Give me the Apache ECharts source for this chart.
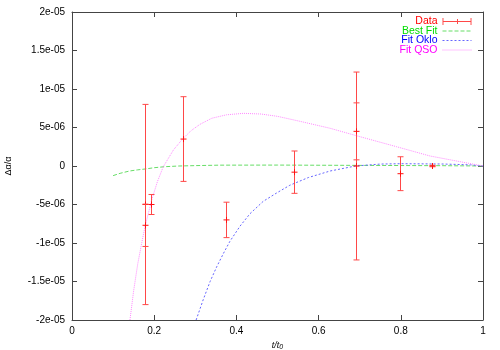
<!DOCTYPE html>
<html><head><meta charset="utf-8">
<script src="https://cdn.jsdelivr.net/npm/echarts@6/dist/echarts.min.js"></script>
<style>html,body{margin:0;padding:0;background:#fff}#c{width:500px;height:350px}</style>
</head><body><div id="c"></div>
<script>
// Data points with y error bars
const dataX   = [0.178, 0.178, 0.192, 0.269, 0.375, 0.541, 0.691, 0.691, 0.797, 0.877];
const dataY   = [-5e-6, -7.7e-6, -5e-6, 3.5e-6, -7e-6, -8e-7, 0, 4.5e-6, -1e-6, 0];
const dataErr = [1.3e-5, 2.75e-6, 1.3e-6, 5.5e-6, 2.3e-6, 2.75e-6, 1.22e-5, 3.7e-6, 2.2e-6, 1e-7];

// Fit curves
const bestX = [0.1, 0.117, 0.14, 0.16, 0.178, 0.2, 0.226, 0.26, 0.3, 0.36, 0.5, 0.7, 0.9, 1];
const bestY = [-1.25e-6, -9.5e-7, -6.5e-7, -5e-7, -3.9e-7, -2.2e-7, -9e-8, 0, 5e-8, 1.1e-7, 1.2e-7, 8e-8, 4e-8, 0];

const okloX = [0.302, 0.319, 0.336, 0.352, 0.368, 0.384, 0.409, 0.433, 0.465, 0.498, 0.53, 0.575, 0.628, 0.69, 0.75, 0.8, 0.9, 0.97, 1];
const okloY = [-2e-5, -1.74e-5, -1.5e-5, -1.31e-5, -1.14e-5, -9.8e-6, -7.8e-6, -6.2e-6, -4.6e-6, -3.5e-6, -2.5e-6, -1.5e-6, -6.5e-7, 0, 2.5e-7, 3e-7, 2.6e-7, 1.5e-7, 0];

const qsoX = [0.141, 0.15, 0.16, 0.17, 0.178, 0.194, 0.208, 0.222, 0.247, 0.269, 0.29, 0.311, 0.34, 0.376, 0.417, 0.46, 0.5, 0.555, 0.628, 0.691, 0.79, 0.871, 1];
const qsoY = [-2e-5, -1.62e-5, -1.27e-5, -9.9e-6, -7.8e-6, -4.4e-6, -2.0e-6, -1e-7, 2.1e-6, 3.5e-6, 4.6e-6, 5.4e-6, 6.2e-6, 6.65e-6, 6.84e-6, 6.75e-6, 6.45e-6, 5.8e-6, 4.9e-6, 3.95e-6, 2.5e-6, 1.3e-6, 0];

const xTickLabels = ['0', '0.2', '0.4', '0.6', '0.8', '1'];
const yTickLabels = ['-2e-05', '-1.5e-05', '-1e-05', '-5e-06', '0', '5e-06', '1e-05', '1.5e-05', '2e-05'];

const seriesNames = ['Data', 'Best Fit', 'Fit Oklo', 'Fit QSO'];

const Y_MIN = -2e-5, Y_INT = 5e-6;
const zip = (a, b) => a.map((v, i) => [v, b[i]]);
const FONT = 'Liberation Sans';
const AX = '#444';
const BAR = '#ff4848';

const chart = echarts.init(document.getElementById('c'), null, {renderer: 'canvas'});
const grid = {left: 72, right: 17, top: 12, bottom: 30, containLabel: false, outerBoundsMode: 'none'};
const baseX = {type: 'value', min: 0, max: 1, interval: 0.2, splitLine: {show: false},
  axisLine: {onZero: false, lineStyle: {color: AX, width: 1}}, axisTick: {inside: true, length: 5, lineStyle: {color: AX}}};
const baseY = {type: 'value', min: -2e-5, max: 2e-5, interval: 5e-6, splitLine: {show: false},
  axisLine: {onZero: false, lineStyle: {color: AX, width: 1}}, axisTick: {inside: true, length: 5, lineStyle: {color: AX}}};

chart.setOption({
  animation: false,
  color: [BAR, '#66dd66', '#6666ff', '#ff88ff'],
  grid: grid,
  legend: {
    orient: 'vertical', right: 28, top: 16, align: 'right', padding: 0,
    itemWidth: 29, itemHeight: 8, itemGap: -1.5,
    textStyle: {fontFamily: FONT, fontSize: 10.5, lineHeight: 10},
    data: [
      {name: 'Data', icon: 'path://M0,4H30V5H0Z M0,1H1V8H0Z M29,1H30V8H29Z M15,2H16V7H15Z',
        itemStyle: {color: BAR, borderWidth: 0}, textStyle: {color: '#ff0000'}},
      {name: 'Best Fit', itemStyle: {opacity: 0}, lineStyle: {width: 1}, textStyle: {color: '#00dd00'}},
      {name: 'Fit Oklo', itemStyle: {opacity: 0}, lineStyle: {width: 1}, textStyle: {color: '#0000ff'}},
      {name: 'Fit QSO', itemStyle: {opacity: 0}, lineStyle: {width: 1}, textStyle: {color: '#ff00ff'}}
    ]
  },
  xAxis: [
    Object.assign({}, baseX, {position: 'bottom',
      axisLabel: {fontFamily: FONT, fontSize: 10, color: '#000', margin: 6,
        formatter: v => xTickLabels[Math.round(v / 0.2)]},
      name: '{i|t/t}{s|0}', nameLocation: 'middle', nameGap: 19,
      nameTextStyle: {rich: {i: {fontFamily: FONT, fontStyle: 'italic', fontSize: 9, color: '#000'},
        s: {fontFamily: FONT, fontStyle: 'italic', fontSize: 7, color: '#000', verticalAlign: 'bottom', padding: [4, 0, 0, 0]}}}}),
    Object.assign({}, baseX, {position: 'top', axisLabel: {show: false}})
  ],
  yAxis: [
    Object.assign({}, baseY, {position: 'left',
      axisLabel: {fontFamily: FONT, fontSize: 10, color: '#000', margin: 7,
        formatter: v => yTickLabels[Math.round((v - Y_MIN) / Y_INT)]},
      name: 'Δα/α', nameLocation: 'middle', nameGap: 59, nameRotate: 90,
      nameTextStyle: {fontFamily: FONT, fontSize: 9, color: '#000'}}),
    Object.assign({}, baseY, {position: 'right', axisLabel: {show: false}})
  ],
  series: [
    {
      name: seriesNames[0], type: 'custom', xAxisIndex: 0, yAxisIndex: 0,
      itemStyle: {color: BAR},
      data: dataX.map((x, i) => [x, dataY[i], dataErr[i]]),
      renderItem: function (params, api) {
        const x = api.value(0), y = api.value(1), e = api.value(2);
        const c = api.coord([x, y]);
        const top = api.coord([x, y + e]);
        const bot = api.coord([x, y - e]);
        const cx = Math.round(c[0]) + 0.5;
        const st = {stroke: BAR, lineWidth: 1, fill: null};
        const st2 = {stroke: '#ff1010', lineWidth: 1, fill: null};
        return {type: 'group', children: [
          {type: 'line', shape: {x1: cx, y1: top[1], x2: cx, y2: bot[1]}, style: st},
          {type: 'line', shape: {x1: cx - 3, y1: top[1], x2: cx + 3, y2: top[1]}, style: st},
          {type: 'line', shape: {x1: cx - 3, y1: bot[1], x2: cx + 3, y2: bot[1]}, style: st},
          {type: 'line', shape: {x1: cx - 3, y1: c[1], x2: cx + 3, y2: c[1]}, style: st2},
          {type: 'line', shape: {x1: cx, y1: c[1] - 3, x2: cx, y2: c[1] + 3}, style: st2}
        ]};
      },
      z: 5
    },
    {name: seriesNames[1], type: 'line', data: zip(bestX, bestY), symbol: 'none', smooth: false,
      itemStyle: {color: '#66dd66'}, lineStyle: {color: '#66dd66', width: 1, type: [4, 2]}},
    {name: seriesNames[2], type: 'line', data: zip(okloX, okloY), symbol: 'none', smooth: false,
      itemStyle: {color: '#6666ff'}, lineStyle: {color: '#6666ff', width: 1, type: [2, 2]}},
    {name: seriesNames[3], type: 'line', data: zip(qsoX, qsoY), symbol: 'none', smooth: false,
      itemStyle: {color: '#ff88ff'}, lineStyle: {color: '#ff88ff', width: 1, type: [1, 1]}}
  ]
});
</script></body></html>
